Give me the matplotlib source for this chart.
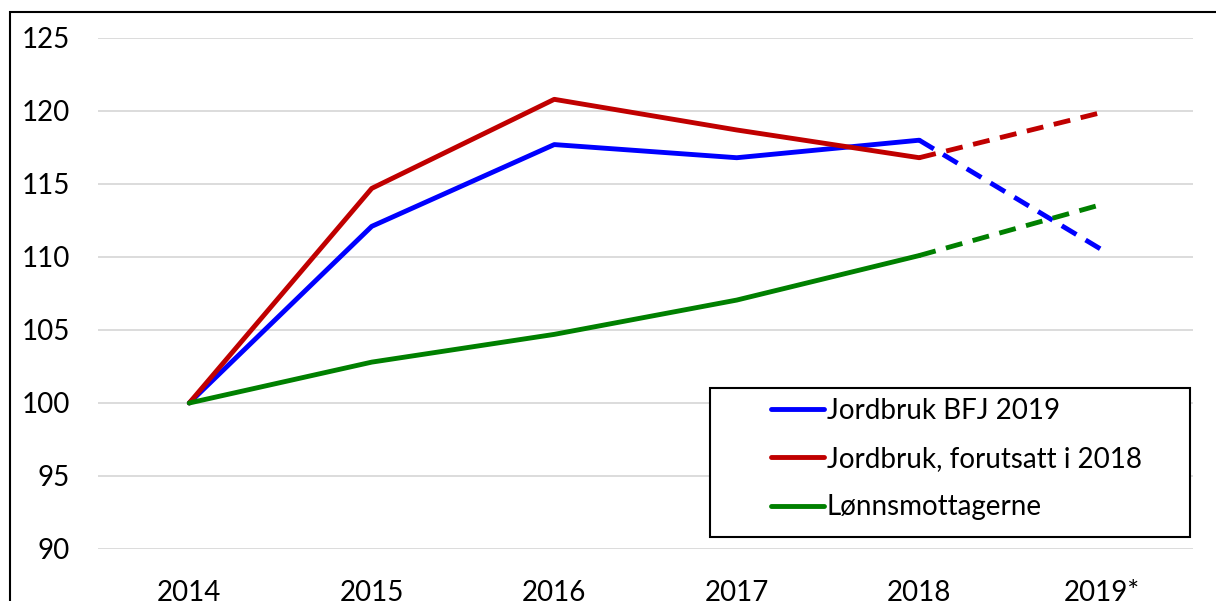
import matplotlib.pyplot as plt
from matplotlib.patches import Rectangle

years = ["2014", "2015", "2016", "2017", "2018", "2019*"]
bfj = [100, 112.1, 117.7, 116.8, 118.0, 110.5]
forutsatt = [100, 114.7, 120.8, 118.7, 116.8, 119.9]
lonn = [100, 102.8, 104.7, 107.05, 110.1, 113.6]

series = [
    ("Jordbruk BFJ 2019", bfj, "#0000FF"),
    ("Jordbruk, forutsatt i 2018", forutsatt, "#C00000"),
    ("Lønnsmottagerne", lonn, "#008000"),
]

plt.rcParams['font.family'] = ['Lato', 'DejaVu Sans']

fig = plt.figure(figsize=(12.16, 6.01), dpi=100)
ax = fig.add_axes([98 / 1216, 1 - 549 / 601, (1193 - 98) / 1216, (549 - 38) / 601])

x = list(range(len(years)))
handles = []
for label, vals, color in series:
    h, = ax.plot(x[:5], vals[:5], color=color, lw=3.5, solid_capstyle='round', label=label)
    ax.plot(x[4:], vals[4:], color=color, lw=3.5, linestyle=(0, (3.5, 2.2)))
    handles.append(h)

ax.set_xlim(-0.5, len(years) - 0.5)
ax.set_ylim(90, 125)
ax.set_yticks(range(90, 126, 5))
ax.set_xticks(x)
ax.set_xticklabels(years)
ax.grid(axis='y', color='#D9D9D9', lw=1.3)
ax.set_axisbelow(True)
for s in ax.spines.values():
    s.set_visible(False)
ax.tick_params(length=0, labelsize=20)
ax.tick_params(axis='y', pad=20)
ax.tick_params(axis='x', pad=22)

# legend box drawn separately so its padding can match the original
ax.add_patch(Rectangle((710 / 1216, 1 - 537 / 601), 480 / 1216, 149 / 601, transform=fig.transFigure,
                       facecolor='white', edgecolor='black', lw=1.5, zorder=4))
leg = ax.legend(handles=handles, loc='upper left', bbox_to_anchor=(771 / 1216, 1 - 398 / 601),
                bbox_transform=fig.transFigure, fontsize=20, frameon=False,
                handlelength=1.9, handletextpad=0.1, borderpad=0, labelspacing=0.8,
                borderaxespad=0)
leg.set_zorder(5)

# frame of the original picture (cut at the right and bottom)
fig.patches.append(Rectangle((10 / 1216, -0.1), 1.2, 1 - 12 / 601 + 0.1, transform=fig.transFigure,
                             fill=False, edgecolor='black', lw=1.5))

fig.savefig("out.png", dpi=100)
